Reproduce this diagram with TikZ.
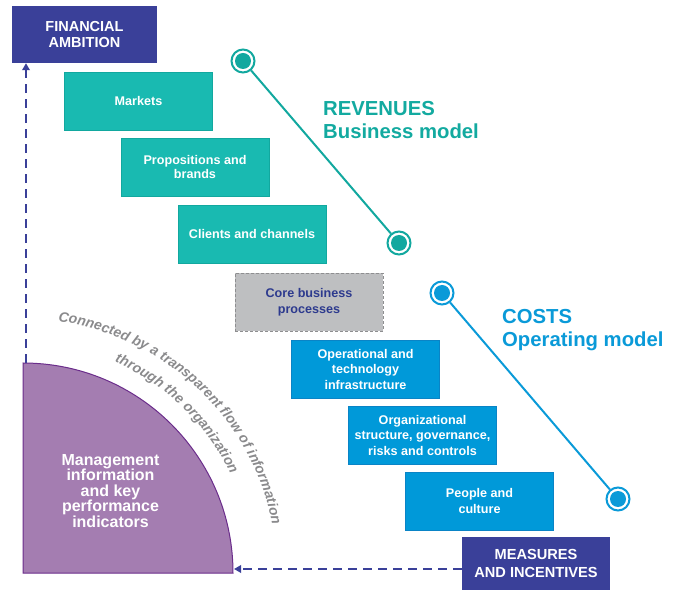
\documentclass[tikz,border=0pt]{standalone}
\usepackage{fontspec}
\setmainfont{Liberation Sans}
\usetikzlibrary{arrows.meta,decorations.text}
\definecolor{navy}{HTML}{3A4099}
\definecolor{tealfill}{HTML}{19BAB1}
\definecolor{tealedge}{HTML}{12A89F}
\definecolor{tealtext}{HTML}{13AAA0}
\definecolor{bluefill}{HTML}{0099D9}
\definecolor{blueedge}{HTML}{0A84C6}
\definecolor{bluetext}{HTML}{0A9AD8}
\definecolor{corefill}{HTML}{BEBFC1}
\definecolor{coreedge}{HTML}{8E8E90}
\definecolor{coretext}{HTML}{2D3A8E}
\definecolor{purplefill}{HTML}{A47DB1}
\definecolor{purpleedge}{HTML}{6B2D8B}
\definecolor{flowgray}{HTML}{8A8A8C}
\tikzset{
  basebox/.style={minimum width=148pt, minimum height=58pt, inner sep=0pt, align=center,
    font=\bfseries\fontsize{12.6}{15.5}\selectfont, line width=0.8pt},
  revbox/.style={basebox, draw=tealedge, fill=tealfill, text=white},
  costbox/.style={basebox, draw=blueedge, fill=bluefill, text=white},
  corebox/.style={basebox, draw=coreedge, fill=corefill, text=coretext, dashed, dash pattern=on 3pt off 2pt},
  navybox/.style={fill=navy, text=white, inner sep=0pt, align=center},
  ring/.style={circle, draw=#1, fill=white, line width=2pt, minimum size=23pt, inner sep=0pt,
    path picture={\fill[#1] (path picture bounding box.center) circle (8pt);}},
  dasharrow/.style={navy, line width=1.8pt, dash pattern=on 8.5pt off 6.5pt, -{Triangle[length=7pt,width=7.5pt]}},
  headline/.style={anchor=west, font=\bfseries\fontsize{20.3}{23.5}\selectfont, align=left, inner sep=0pt},
}
\begin{document}
\begin{tikzpicture}[x=1pt,y=1pt]
\useasboundingbox (0,0) rectangle (680,592);

% financial ambition
\node[navybox, minimum width=145pt, minimum height=57pt, font=\bfseries\fontsize{14.5}{16.5}\selectfont] (fin) at (84.5,557.5) {FINANCIAL\\AMBITION};

% revenue boxes
\node[revbox] (markets) at (138.5,491) {Markets};
\node[revbox, font=\bfseries\fontsize{12.6}{13.5}\selectfont] (props) at (195,425) {Propositions and\\brands};
\node[revbox] (clients) at (252,358) {Clients and channels};
\node[corebox] (core) at (309,290) {Core business\\processes};
\node[costbox] (oper) at (365.5,223) {Operational and\\technology\\infrastructure};
\node[costbox] (org) at (422.5,157) {Organizational\\structure, governance,\\risks and controls};
\node[costbox] (people) at (479.5,91) {People and\\culture};

% measures
\node[navybox, minimum width=148pt, minimum height=53pt, font=\bfseries\fontsize{14.6}{17.5}\selectfont] (meas) at (536,28.5) {MEASURES\\AND INCENTIVES};

% revenue line
\node[ring=tealedge] (r1) at (243,531) {};
\node[ring=tealedge] (r2) at (399,349) {};
\draw[tealedge, line width=2pt] (r1) -- (r2);
\node[headline, text=tealtext] (revt) at (323,472) {REVENUES\\Business model};

% cost line
\node[ring=bluetext] (c1) at (442,299) {};
\node[ring=bluetext] (c2) at (618,93) {};
\draw[bluetext, line width=2pt] (c1) -- (c2);
\node[headline, text=bluetext] (costt) at (502,262) {COSTS\\Operating model};

% quarter circle
\coordinate (qc) at (23,19);
\fill[purplefill] (qc) -- (23,229) arc[start angle=90, end angle=0, radius=210] -- cycle;
\draw[purpleedge, line width=1pt] (qc) -- (23,229) arc[start angle=90, end angle=0, radius=210] -- cycle;
\node[text=white, align=center, font=\bfseries\fontsize{16}{15.5}\selectfont] (mi) at (110.5,101) {Management\\information\\and key\\performance\\indicators};
\coordinate (qtop) at (26,229);
\coordinate (qright) at (234,23);

% arrows
\draw[dasharrow] (qtop) -- (qtop |- fin.south);
\draw[dasharrow] (meas.west |- qright) -- (qright);

% curved text
\path[decorate, decoration={text along path, text align=center,
  text={|\color{flowgray}\bfseries\itshape\fontsize{14}{16}\selectfont|Connected by a transparent flow of information}}]
  (qc) ++(89:254) arc[start angle=89, end angle=4, radius=254];
\path[decorate, decoration={text along path, text align=center,
  text={|\color{flowgray}\bfseries\itshape\fontsize{14}{16}\selectfont|through the organization}}]
  (qc) ++(88:230) arc[start angle=88, end angle=4, radius=230];
\end{tikzpicture}
\end{document}
